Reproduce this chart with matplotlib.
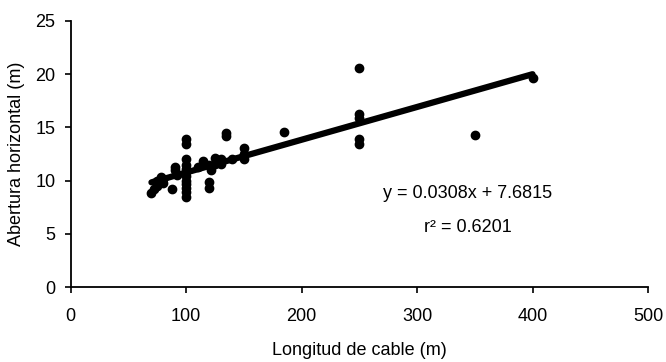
import numpy as np
import matplotlib.pyplot as plt
import matplotlib

matplotlib.rcParams['font.family'] = ['Liberation Sans', 'DejaVu Sans']

# cable length (m) vs horizontal opening (m)
longitud = [70, 72, 75, 75, 78, 80, 80, 88, 90, 90, 92,
            100, 100, 100, 100, 100, 100, 100, 100, 100, 100, 100, 100,
            110, 115, 120, 120, 120, 122, 125, 125, 130, 130, 135, 135, 140,
            150, 150, 150, 185, 250, 250, 250, 250, 250, 350, 400]
abertura = [8.8, 9.2, 9.5, 10.0, 10.3, 9.8, 10.2, 9.2, 11.0, 11.3, 10.5,
            8.5, 8.9, 9.3, 9.7, 10.0, 10.4, 10.8, 11.1, 11.5, 12.0, 13.4, 13.9,
            11.3, 11.8, 9.3, 9.9, 11.5, 11.0, 11.6, 12.1, 12.0, 11.6, 14.5, 14.2, 12.0,
            12.0, 12.5, 13.1, 14.6, 20.6, 16.3, 15.9, 13.9, 13.4, 14.3, 19.6]

pendiente = 0.0308
intercepto = 7.6815

fig, ax = plt.subplots(figsize=(6.66, 3.62), dpi=100)
fig.subplots_adjust(left=0.106, right=0.973, bottom=0.207, top=0.942)

ax.scatter(longitud, abertura, s=36, color='black', zorder=3)
xf = np.array([min(longitud), max(longitud)])
ax.plot(xf, pendiente * xf + intercepto, color='black', linewidth=4.5,
        solid_capstyle='round', zorder=2)

ax.text(344, 8.8, 'y = 0.0308x + 7.6815', ha='center', va='center', fontsize=13)
ax.text(344, 5.6, 'r\u00b2 = 0.6201', ha='center', va='center', fontsize=13)

ax.set_xlim(0, 500)
ax.set_ylim(0, 25)
ax.set_xticks([0, 100, 200, 300, 400, 500])
ax.set_yticks([0, 5, 10, 15, 20, 25])

ax.spines['top'].set_visible(False)
ax.spines['right'].set_visible(False)
ax.spines['left'].set_linewidth(1.3)
ax.spines['bottom'].set_linewidth(1.3)
ax.tick_params(axis='both', direction='out', length=4, width=1.2, labelsize=13)
ax.tick_params(axis='x', pad=11)
ax.tick_params(axis='y', pad=7)

ax.set_xlabel('Longitud de cable (m)', fontsize=13, labelpad=12)
ax.set_ylabel('Abertura horizontal (m)', fontsize=13, labelpad=7)

plt.savefig('out.png', dpi=100)
